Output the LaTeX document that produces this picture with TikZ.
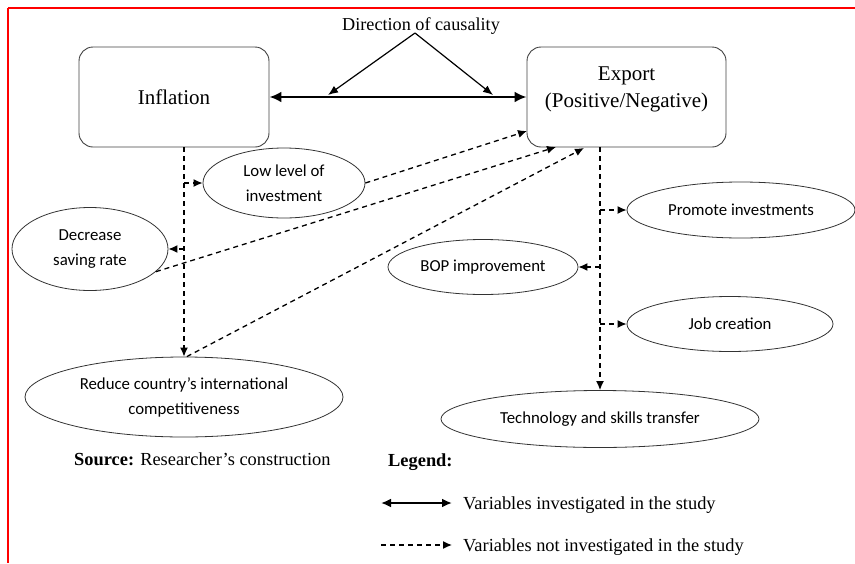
\documentclass[tikz,border=0pt]{standalone}
\usepackage{fontspec}
\setmainfont{Liberation Serif}
\newfontfamily\elfont{Carlito}
\usetikzlibrary{shapes.geometric,arrows.meta}
\begin{document}
\begin{tikzpicture}[x=1pt,y=-1pt,
  box/.style={draw=black!75,line width=0.9pt,rounded corners=14pt,align=center,inner sep=0pt,font=\fontsize{21}{27}\selectfont},
  oval/.style={draw=black!80,line width=0.8pt,ellipse,inner sep=0pt,align=center,font=\elfont\fontsize{16.8}{25}\selectfont},
  dsh/.style={line width=1.3pt,dash pattern=on 5pt off 4pt,-{Latex[length=9pt,width=8pt]}},
  thick arr/.style={line width=2.8pt,{Latex[length=12pt,width=11pt]}-{Latex[length=12pt,width=11pt]}},
  thin arr/.style={line width=1.2pt,-{Latex[length=10pt,width=8pt]}},
  txt/.style={inner sep=0pt,anchor=base west,font=\fontsize{18.4}{20}\selectfont}
]
\useasboundingbox (0,0) rectangle (855,563);
\draw[red,line width=1.3pt] (8,8) -- (855,8);
\draw[red,line width=1.3pt] (8,8) -- (8,563);

% main boxes
\node[box,minimum width=190pt,minimum height=100pt] (infl) at (174,97) {Inflation};
\node[box,minimum width=199pt,minimum height=100pt,text depth=20pt] (exp) at (626.5,97) {Export\\(Positive/Negative)};

% ellipses
\node[oval,minimum width=162pt,minimum height=70pt] (low) at (284,183) {Low level of\\investment};
\node[oval,minimum width=156pt,minimum height=83pt] (dec) at (90,249) {Decrease\\saving rate};
\node[oval,minimum width=318pt,minimum height=80pt] (red) at (184,397) {Reduce country’s international\\competitiveness};
\node[oval,minimum width=228pt,minimum height=56pt] (prom) at (741,210) {Promote investments};
\node[oval,minimum width=190pt,minimum height=55pt] (bop) at (483,267) {BOP improvement};
\node[oval,minimum width=206pt,minimum height=55pt] (job) at (730,324) {Job creation};
\node[oval,minimum width=318pt,minimum height=57pt] (tech) at (600,419) {Technology and skills transfer};

% direction of causality
\node[inner sep=0pt,font=\fontsize{18.2}{20}\selectfont] (dir) at (421,26) {Direction of causality};
\coordinate (apex) at (415,33);
\coordinate (t1) at (328,95);
\coordinate (t2) at (493,95);
\draw[thin arr] (apex) -- (t1);
\draw[thin arr] (apex) -- (t2);

% investigated relation
\draw[thick arr] (infl.east) -- (infl.east -| exp.west);

% inflation branch
\coordinate (i0) at (184,147);
\coordinate (ib1) at (184,183);
\coordinate (ib2) at (184,249);
\draw[dsh] (i0) -- (red.north);
\draw[dsh] (ib1) -- (low.west);
\draw[dsh] (ib2) -- (dec.east);

% links to export
\coordinate (e1) at (527,131);
\coordinate (e2) at (556,147);
\coordinate (e3) at (584,148);
\draw[dsh] (low.east) -- (e1);
\draw[dsh] (dec.-19) -- (e2);
\draw[dsh] (red.86) -- (e3);

% export branch
\coordinate (x0) at (600,147);
\coordinate (xb1) at (600,210);
\coordinate (xb2) at (600,267);
\coordinate (xb3) at (600,324);
\draw[dsh] (x0) -- (tech.north);
\draw[dsh] (xb1) -- (prom.west);
\draw[dsh] (xb2) -- (bop.east);
\draw[dsh] (xb3) -- (job.west);

% source and legend
\node[txt] (src) at (74,465) {\textbf{Source:} Researcher’s construction};
\node[txt] (leg) at (388,466) {\textbf{Legend:}};
\coordinate (l1a) at (381,503);
\coordinate (l1b) at (452,503);
\coordinate (l2a) at (381,545);
\coordinate (l2b) at (452,545);
\draw[line width=2.4pt,{Latex[length=10pt,width=9pt]}-{Latex[length=10pt,width=9pt]}] (l1a) -- (l1b);
\draw[dsh] (l2a) -- (l2b);
\node[txt] (lt1) at (463,509) {Variables investigated in the study};
\node[txt] (lt2) at (463,551) {Variables not investigated in the study};
\end{tikzpicture}
\end{document}
